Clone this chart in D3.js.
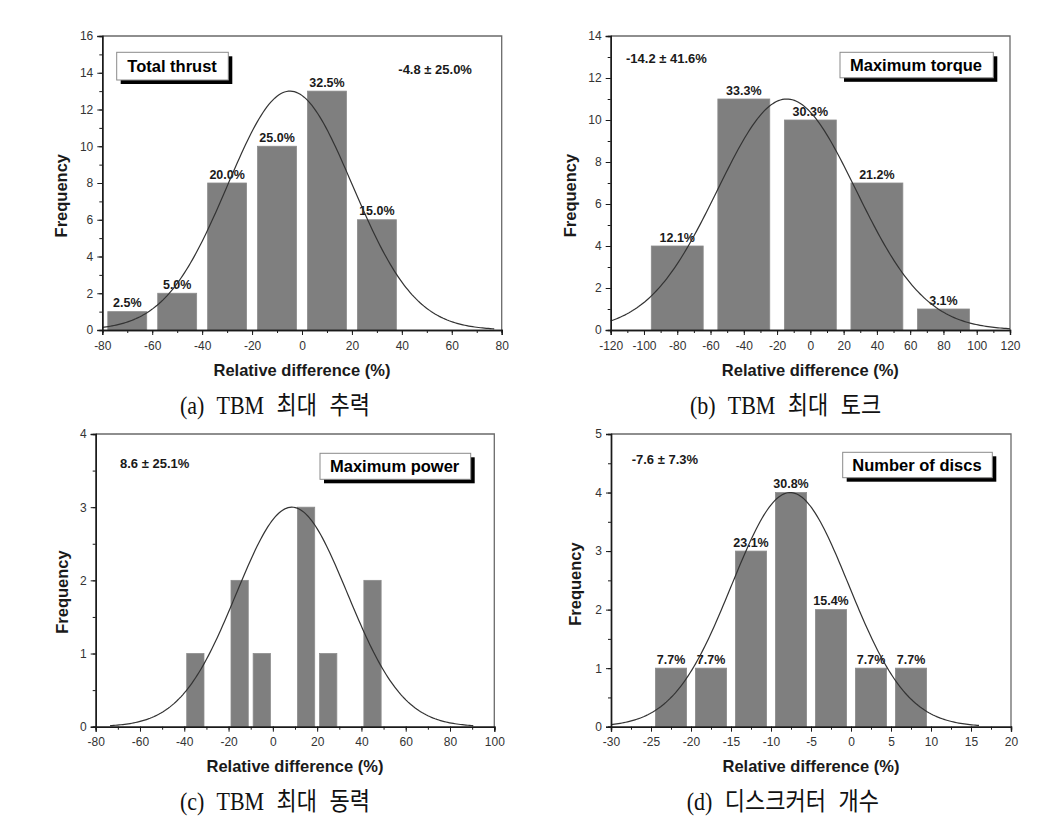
<!DOCTYPE html>
<html><head><meta charset="utf-8">
<script src="https://cdn.jsdelivr.net/npm/d3@7"></script>
<style>body{margin:0;background:#fff}svg{display:block}</style>
</head><body>
<svg id="chart" width="1040" height="835"></svg>
<script>
// ---------------- DATA ----------------
// (a) Total thrust
const thrustBins = [-70, -50, -30, -10, 10, 30];
const thrustFreq = [1, 2, 8, 10, 13, 6];
const thrustPct = ["2.5%", "5.0%", "20.0%", "25.0%", "32.5%", "15.0%"];
const thrustFit = [-4.8, 25.0, 13];          // mean, sd, peak
const thrustFitRange = [-80, 77];
const thrustXTicks = [-80, -60, -40, -20, 0, 20, 40, 60, 80];
const thrustYTicks = [0, 2, 4, 6, 8, 10, 12, 14, 16];

// (b) Maximum torque
const torqueBins = [-80, -40, 0, 40, 80];
const torqueFreq = [4, 11, 10, 7, 1];
const torquePct = ["12.1%", "33.3%", "30.3%", "21.2%", "3.1%"];
const torqueFit = [-14.2, 41.6, 11];
const torqueFitRange = [-120, 120];
const torqueXTicks = [-120, -100, -80, -60, -40, -20, 0, 20, 40, 60, 80, 100, 120];
const torqueYTicks = [0, 2, 4, 6, 8, 10, 12, 14];

// (c) Maximum power
const powerBins = [-35, -15, -5, 15, 25, 45];
const powerFreq = [1, 2, 1, 3, 1, 2];
const powerPct = [];
const powerFit = [8.6, 25.1, 3];
const powerFitRange = [-73.5, 90.5];
const powerXTicks = [-80, -60, -40, -20, 0, 20, 40, 60, 80, 100];
const powerYTicks = [0, 1, 2, 3, 4];

// (d) Number of discs
const discBins = [-22.5, -17.5, -12.5, -7.5, -2.5, 2.5, 7.5];
const discFreq = [1, 1, 3, 4, 2, 1, 1];
const discPct = ["7.7%", "7.7%", "23.1%", "30.8%", "15.4%", "7.7%", "7.7%"];
const discFit = [-7.6, 7.3, 4];
const discFitRange = [-30, 16];
const discXTicks = [-30, -25, -20, -15, -10, -5, 0, 5, 10, 15, 20];
const discYTicks = [0, 1, 2, 3, 4, 5];

const legendNames = ["Total thrust", "Maximum torque", "Maximum power", "Number of discs"];
const statLabels = ["-4.8 ± 25.0%", "-14.2 ± 41.6%", "8.6 ± 25.1%", "-7.6 ± 7.3%"];
const captions = ["(a) TBM 최대 추력", "(b) TBM 최대 토크", "(c) TBM 최대 동력", "(d) 디스크커터 개수"];
const xTitle = "Relative difference (%)";
const yTitle = "Frequency";

// ---------------- LAYOUT ----------------
const panels = [
  {bins: thrustBins, freq: thrustFreq, pct: thrustPct, fit: thrustFit, fitR: thrustFitRange,
   xt: thrustXTicks, yt: thrustYTicks, binW: 20, xMinor: 10, yMinor: 1,
   L: 102.3, R: 501.7, T: 36, B: 330,
   lg: [116.7, 52.3, 111.6, 27.7, 127.3, 72.3], st: [398.3, 74], yl: [66.5, 195.7], cap: [180, 413.5]},
  {bins: torqueBins, freq: torqueFreq, pct: torquePct, fit: torqueFit, fitR: torqueFitRange,
   xt: torqueXTicks, yt: torqueYTicks, binW: 40, xMinor: 10, yMinor: 1,
   L: 610.7, R: 1010, T: 36, B: 330,
   lg: [840, 52.3, 153.3, 25.5, 850, 70.7], st: [626, 63.3], yl: [575.5, 195.5], cap: [690, 413.5]},
  {bins: powerBins, freq: powerFreq, pct: powerPct, fit: powerFit, fitR: powerFitRange,
   xt: powerXTicks, yt: powerYTicks, binW: 10, xMinor: 10, yMinor: 0.5,
   L: 95.7, R: 494.3, T: 434, B: 726.7,
   lg: [320, 453.3, 150.7, 26, 330, 472.3], st: [120, 468.3], yl: [68, 592], cap: [180, 810]},
  {bins: discBins, freq: discFreq, pct: discPct, fit: discFit, fitR: discFitRange,
   xt: discXTicks, yt: discYTicks, binW: 5, xMinor: 2.5, yMinor: 0.5,
   L: 611, R: 1011, T: 434, B: 726.7,
   lg: [842.7, 452.3, 149.6, 25.4, 852.3, 471], st: [631.7, 464], yl: [580.5, 584], cap: [686.7, 810]}
];

const svg = d3.select("#chart");
const SANS = "'Liberation Sans', Arial, sans-serif";

panels.forEach((p, i) => {
  const x = d3.scaleLinear().domain([p.xt[0], p.xt[p.xt.length - 1]]).range([p.L, p.R]);
  const y = d3.scaleLinear().domain([p.yt[0], p.yt[p.yt.length - 1]]).range([p.B, p.T]);
  const g = svg.append("g");

  // frame (top/right)
  g.append("path")
    .attr("d", `M${p.L},${p.T}H${p.R}V${p.B}`)
    .attr("fill", "none").attr("stroke", "#6a6a6a").attr("stroke-width", 1.3);

  // bars
  const bw = p.binW * 0.78;
  g.selectAll("rect.bar").data(p.bins).enter().append("rect")
    .attr("x", (d) => x(d - bw / 2))
    .attr("width", (d) => x(d + bw / 2) - x(d - bw / 2))
    .attr("y", (d, j) => y(p.freq[j]))
    .attr("height", (d, j) => y(0) - y(p.freq[j]))
    .attr("fill", "#7f7f7f").attr("stroke", "#8c8c8c").attr("stroke-width", 0.8);

  // percentage labels
  g.selectAll("text.pct").data(p.pct).enter().append("text")
    .attr("x", (d, j) => x(p.bins[j]))
    .attr("y", (d, j) => y(p.freq[j]) - 4.5)
    .attr("text-anchor", "middle")
    .attr("font-family", SANS).attr("font-weight", "bold").attr("font-size", 12.5)
    .attr("fill", "#1a1a1a").text((d) => d);

  // fitted normal curve
  const [mu, sd, amp] = p.fit;
  const steps = 200;
  const pts = d3.range(steps + 1).map((k) => {
    const xv = p.fitR[0] + (p.fitR[1] - p.fitR[0]) * k / steps;
    return [xv, amp * Math.exp(-((xv - mu) ** 2) / (2 * sd * sd))];
  });
  g.append("path").datum(pts)
    .attr("d", d3.line().x((d) => x(d[0])).y((d) => y(d[1])))
    .attr("fill", "none").attr("stroke", "#333").attr("stroke-width", 1.2);

  // axes
  const xMinorTicks = d3.range(p.xt[0], p.xt[p.xt.length - 1] + 1e-9, p.xMinor);
  const yMinorTicks = d3.range(p.yt[0], p.yt[p.yt.length - 1] + 1e-9, p.yMinor);

  const xMin = g.append("g").attr("transform", `translate(0,${p.B})`)
    .call(d3.axisBottom(x).tickValues(xMinorTicks).tickSize(3).tickFormat(""));
  const xMaj = g.append("g").attr("transform", `translate(0,${p.B})`)
    .call(d3.axisBottom(x).tickValues(p.xt).tickSize(5).tickPadding(6).tickFormat(d3.format("d")));
  const yMin = g.append("g").attr("transform", `translate(${p.L},0)`)
    .call(d3.axisLeft(y).tickValues(yMinorTicks).tickSize(3).tickFormat(""));
  const yMaj = g.append("g").attr("transform", `translate(${p.L},0)`)
    .call(d3.axisLeft(y).tickValues(p.yt).tickSize(5).tickPadding(4).tickFormat(d3.format("d")));

  [xMin, xMaj, yMin, yMaj].forEach((a) => {
    a.select(".domain").attr("stroke", "#1a1a1a").attr("stroke-width", 1.4);
    a.selectAll(".tick line").attr("stroke", "#1a1a1a").attr("stroke-width", 1);
    a.selectAll("text").attr("font-family", SANS).attr("font-size", 12).attr("fill", "#333");
  });
  xMaj.selectAll("text").text((d) => (d < 0 ? "-" + Math.abs(d) : d));

  // axis titles
  g.append("text")
    .attr("x", (p.L + p.R) / 2).attr("y", p.B + 45.5)
    .attr("text-anchor", "middle")
    .attr("font-family", SANS).attr("font-weight", "bold").attr("font-size", 16.5)
    .attr("fill", "#1a1a1a").text(xTitle);
  g.append("text")
    .attr("transform", `translate(${p.yl[0]},${p.yl[1]}) rotate(-90)`)
    .attr("text-anchor", "middle")
    .attr("font-family", SANS).attr("font-weight", "bold").attr("font-size", 16.5)
    .attr("fill", "#1a1a1a").text(yTitle);

  // legend box with shadow
  const [bx, by, bwid, bh, tx, ty] = p.lg;
  g.append("rect").attr("x", bx + 4).attr("y", by + 4).attr("width", bwid).attr("height", bh)
    .attr("fill", "#000");
  g.append("rect").attr("x", bx).attr("y", by).attr("width", bwid).attr("height", bh)
    .attr("fill", "#fff").attr("stroke", "#8a8a8a").attr("stroke-width", 1);
  g.append("text").attr("x", tx).attr("y", ty)
    .attr("font-family", SANS).attr("font-weight", "bold").attr("font-size", 16.5)
    .attr("fill", "#000").text(legendNames[i]);

  // statistics text
  g.append("text").attr("x", p.st[0]).attr("y", p.st[1])
    .attr("font-family", SANS).attr("font-weight", "bold").attr("font-size", 13)
    .attr("fill", "#1a1a1a").text(statLabels[i]);

  // caption
  g.append("text")
    .attr("transform", `translate(${p.cap[0]},${p.cap[1]}) scale(1,1.15)`)
    .attr("font-family", "'Liberation Serif', 'Noto Sans CJK KR', serif")
    .attr("font-size", 22).attr("word-spacing", 7)
    .attr("fill", "#111").text(captions[i]);
});
</script>
</body></html>
